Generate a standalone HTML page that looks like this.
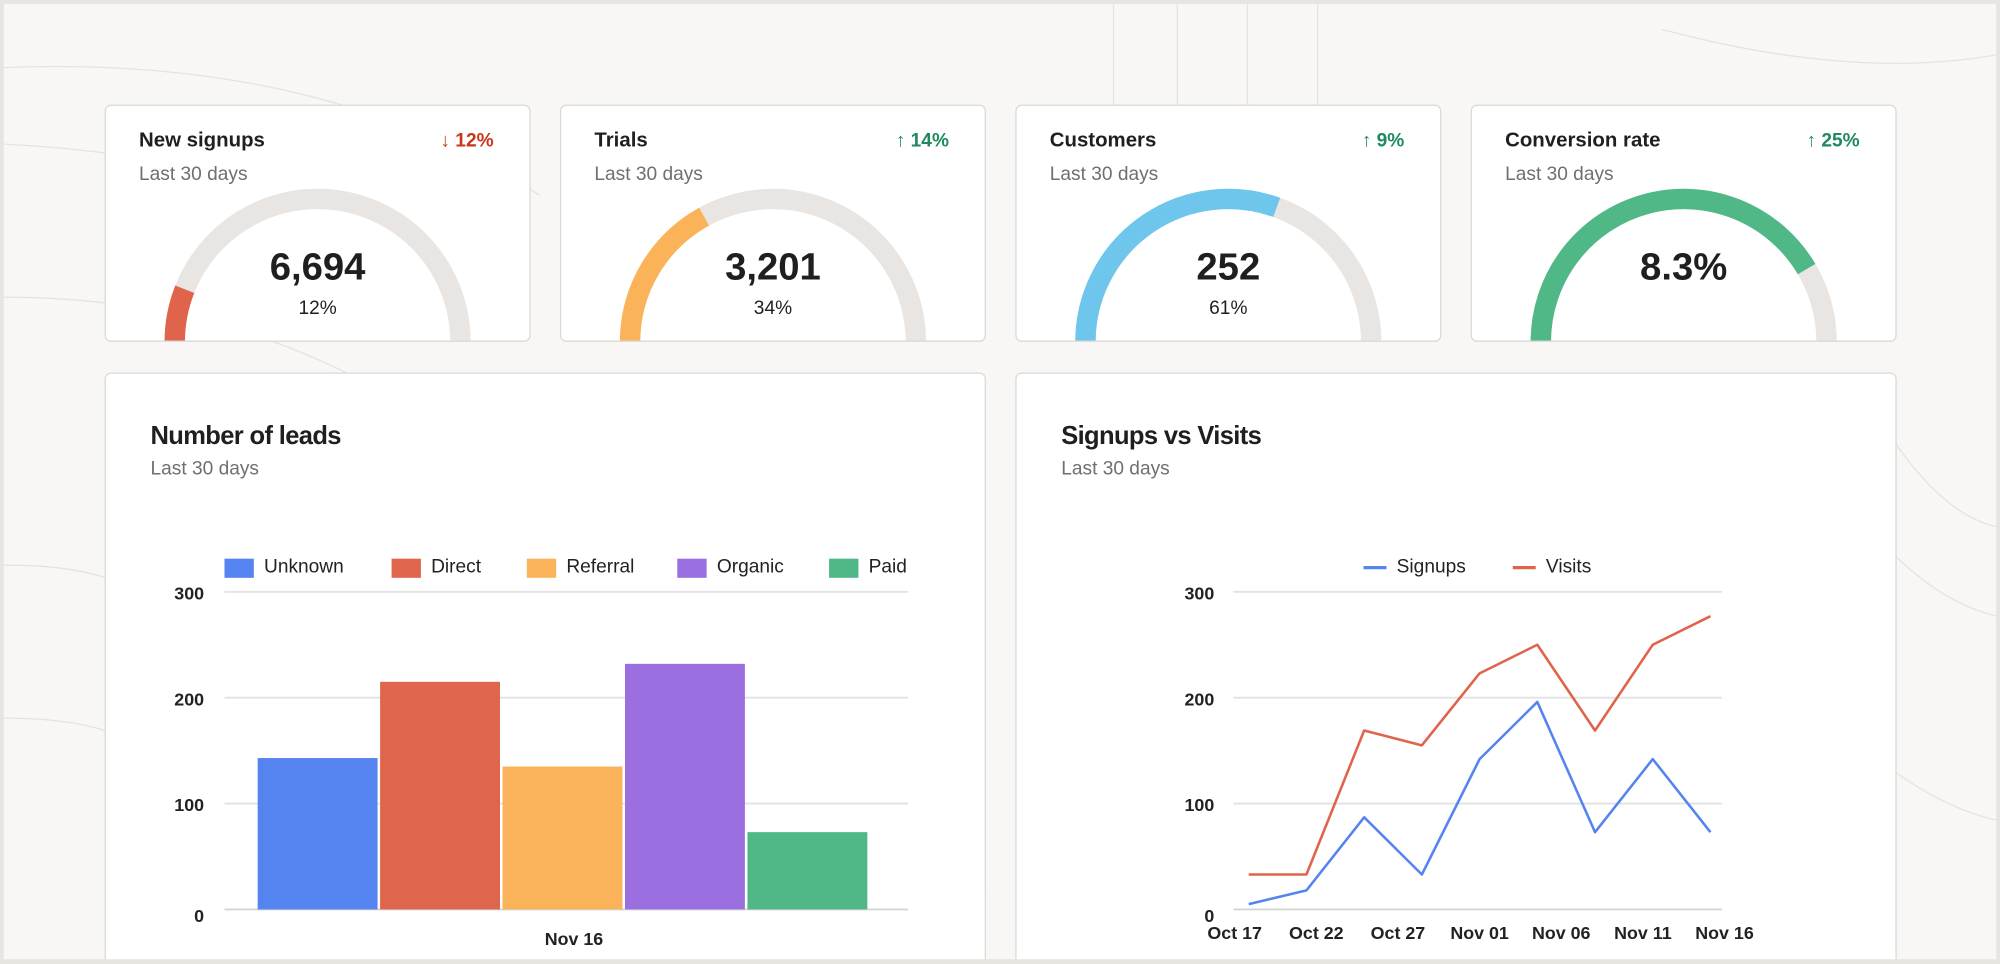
<!DOCTYPE html>
<html><head><meta charset="utf-8">
<style>
html,body{margin:0;padding:0;width:2000px;height:964px;overflow:hidden;background:#e8e5e1;}
#stage{position:absolute;left:0;top:0;width:1568px;height:756px;overflow:hidden;transform:scale(1.27551);transform-origin:0 0;font-family:"Liberation Sans",Arial,sans-serif;}
#frame{position:absolute;left:3px;top:3px;width:1562px;height:753px;background:#f8f7f5;overflow:hidden;}
.card{position:absolute;background:#fff;border:1px solid #dcd9d5;border-radius:5px;overflow:hidden;}
.t{position:absolute;font-weight:bold;color:#1f1f1f;}
.s{position:absolute;color:#6f6f6f;font-size:15px;}
.d{position:absolute;font-weight:bold;font-size:15px;}
svg text{font-family:"Liberation Sans",Arial,sans-serif;}
</style></head><body>
<div id="stage">
<div id="frame">
<svg width="1562" height="753" style="position:absolute;left:0;top:0">
<g fill="none" stroke="#e6e3df" stroke-width="1">
<path d="M0 50 Q250 40 420 150"/><path d="M0 110 Q200 120 360 200"/><path d="M0 230 Q150 230 270 290"/>
<path d="M870 0 L870 80"/><path d="M920 0 L920 80"/><path d="M975 0 L975 80"/><path d="M1030 0 L1030 80"/>
<path d="M1300 20 Q1450 60 1562 40"/><path d="M1480 340 Q1520 400 1562 410"/><path d="M1480 430 Q1520 470 1562 480"/>
<path d="M1480 600 Q1520 630 1562 640"/><path d="M0 440 Q50 440 80 450"/><path d="M0 560 Q50 560 80 570"/>
</g></svg>
</div>

<div class="card" style="left:82px;top:82px;width:332px;height:184px">
<div class="t" style="left:26px;top:19px;font-size:16px">New signups</div>
<div class="d" style="right:28px;top:19px;color:#c9351b">↓ 12%</div>
<div class="s" style="left:26px;top:45px">Last 30 days</div>
<svg class="g" data-p="0.12" data-c="#e0634b" width="332" height="184" style="position:absolute;left:0;top:0"></svg>
<div class="t" style="left:0;width:332px;text-align:center;top:110px;font-size:30px">6,694</div>
<div style="position:absolute;left:0;width:332px;text-align:center;top:150px;font-size:15px;color:#1f1f1f">12%</div>
</div>

<div class="card" style="left:439px;top:82px;width:332px;height:184px">
<div class="t" style="left:26px;top:19px;font-size:16px">Trials</div>
<div class="d" style="right:28px;top:19px;color:#1e8a5e">↑ 14%</div>
<div class="s" style="left:26px;top:45px">Last 30 days</div>
<svg class="g" data-p="0.34" data-c="#fbb35a" width="332" height="184" style="position:absolute;left:0;top:0"></svg>
<div class="t" style="left:0;width:332px;text-align:center;top:110px;font-size:30px">3,201</div>
<div style="position:absolute;left:0;width:332px;text-align:center;top:150px;font-size:15px;color:#1f1f1f">34%</div>
</div>

<div class="card" style="left:796px;top:82px;width:332px;height:184px">
<div class="t" style="left:26px;top:19px;font-size:16px">Customers</div>
<div class="d" style="right:28px;top:19px;color:#1e8a5e">↑ 9%</div>
<div class="s" style="left:26px;top:45px">Last 30 days</div>
<svg class="g" data-p="0.61" data-c="#6ec6ec" width="332" height="184" style="position:absolute;left:0;top:0"></svg>
<div class="t" style="left:0;width:332px;text-align:center;top:110px;font-size:30px">252</div>
<div style="position:absolute;left:0;width:332px;text-align:center;top:150px;font-size:15px;color:#1f1f1f">61%</div>
</div>

<div class="card" style="left:1153px;top:82px;width:332px;height:184px">
<div class="t" style="left:26px;top:19px;font-size:16px">Conversion rate</div>
<div class="d" style="right:28px;top:19px;color:#1e8a5e">↑ 25%</div>
<div class="s" style="left:26px;top:45px">Last 30 days</div>
<svg class="g" data-p="0.83" data-c="#4fb886" width="332" height="184" style="position:absolute;left:0;top:0"></svg>
<div class="t" style="left:0;width:332px;text-align:center;top:110px;font-size:30px">8.3%</div>
</div>

<div class="card" style="left:82px;top:292px;width:689px;height:480px">
<div class="t" style="left:35px;top:38px;font-size:20px;letter-spacing:-0.5px">Number of leads</div>
<div class="s" style="left:35px;top:66px">Last 30 days</div>
<svg id="bars" width="689" height="480" style="position:absolute;left:0;top:0"></svg>
</div>

<div class="card" style="left:796px;top:292px;width:689px;height:480px">
<div class="t" style="left:35px;top:38px;font-size:20px;letter-spacing:-0.5px">Signups vs Visits</div>
<div class="s" style="left:35px;top:66px">Last 30 days</div>
<svg id="lines" width="689" height="480" style="position:absolute;left:0;top:0"></svg>
</div>
<div style="position:absolute;left:0;top:752px;width:1568px;height:10px;background:#e8e5e1"></div>
</div>

<script>
const barCategories=["Unknown","Direct","Referral","Organic","Paid"];
const barValues=[143,215,135,232,73];
const barColors=["#5583f0","#e0654d","#fbb35a","#9b6fe0","#4fb886"];
const yTicks=[0,100,200,300];
const lineDates=["Oct 17","Oct 22","Oct 27","Nov 01","Nov 06","Nov 11","Nov 16"];
const signups=[5,18,87,33,142,196,73,142,73];
const visits=[33,33,169,155,223,250,169,250,277];
const NS="http://www.w3.org/2000/svg";
function mk(p,tag,at){const e=document.createElementNS(NS,tag);for(const k in at)e.setAttribute(k,at[k]);p.appendChild(e);return e;}

document.querySelectorAll('svg.g').forEach(s=>{
  const p=+s.dataset.p,c=s.dataset.c,cx=166,cy=185,r=112;
  const bg=mk(s,'path',{d:`M${cx-r} ${cy} A${r} ${r} 0 0 1 ${cx+r} ${cy}`,fill:'none',stroke:'#e8e5e2','stroke-width':16});
  
  
  const a=Math.PI*(1-p);
  const fg=mk(s,'path',{d:`M${cx-r} ${cy} A${r} ${r} 0 0 1 ${cx+r*Math.cos(a)} ${cy-r*Math.sin(a)}`,fill:'none',stroke:c,'stroke-width':16});
  
  
});

(function(){
  const s=document.getElementById('bars');
  const y0=420,yH=171,left=93,right=629;
  const y=v=>y0-(v/300)*(y0-yH);
  yTicks.forEach(t=>{
    const l=mk(s,'line',{x1:left,x2:right,y1:y(t),y2:y(t),stroke:t?'#e2e2e2':'#d5d5d5','stroke-width':1.5});
    
    
    const tx=mk(s,'text',{x:77,y:y(t)+(t?6:10),'text-anchor':'end','font-size':14,'font-weight':'bold',fill:'#222'});
    tx.textContent=t;
    
    
  });
  const bw=94,gap=2,x0=119;
  barValues.forEach((v,i)=>{
    const r=mk(s,'rect',{x:x0+i*(bw+gap),y:y(v),width:bw,height:y0-y(v),fill:barColors[i]});
    
    
  });
  const xl=mk(s,'text',{x:367,y:448,'text-anchor':'middle','font-size':14,'font-weight':'bold',fill:'#222'});
  xl.textContent="Nov 16";
  
  
  const lx=[93,224,330,448,567];
  barCategories.forEach((c,i)=>{
    const g=mk(s,'g',{});
    
    
    mk(g,'rect',{x:lx[i],y:145,width:23,height:15,fill:barColors[i]});
    const t=mk(g,'text',{x:lx[i]+31,y:156,'font-size':15,fill:'#222'});t.textContent=c;
  });
})();

(function(){
  const s=document.getElementById('lines');
  const y0=420,yH=171,left=170,right=553,px0=182,px1=544;
  const y=v=>y0-(v/300)*(y0-yH);
  const x=i=>px0+i*(px1-px0)/(signups.length-1);
  yTicks.forEach(t=>{
    const l=mk(s,'line',{x1:left,x2:right,y1:y(t),y2:y(t),stroke:t?'#e2e2e2':'#d5d5d5','stroke-width':1.5});
    
    
    const tx=mk(s,'text',{x:155,y:y(t)+(t?6:10),'text-anchor':'end','font-size':14,'font-weight':'bold',fill:'#222'});
    tx.textContent=t;
    
    
  });
  lineDates.forEach((d,i)=>{
    const tx=mk(s,'text',{x:px0-11+i*(px1-px0+22)/(lineDates.length-1),y:443,'text-anchor':'middle','font-size':14,'font-weight':'bold',fill:'#222'});
    tx.textContent=d;
    
    
  });
  [[visits,'#e0634b','visits-line'],[signups,'#5583f0','signups-line']].forEach(([arr,c,n])=>{
    const p=mk(s,'polyline',{points:arr.map((v,i)=>x(i)+','+y(v)).join(' '),fill:'none',stroke:c,'stroke-width':2,'stroke-linejoin':'round'});
    
    
  });
  [['Signups','#5583f0',272],['Visits','#e0634b',389]].forEach(([t,c,lx])=>{
    const g=mk(s,'g',{});
    
    
    mk(g,'line',{x1:lx,x2:lx+18,y1:152,y2:152,stroke:c,'stroke-width':2.5});
    const tt=mk(g,'text',{x:lx+26,y:156,'font-size':15,fill:'#222'});tt.textContent=t;
  });
})();
</script>
</body></html>
